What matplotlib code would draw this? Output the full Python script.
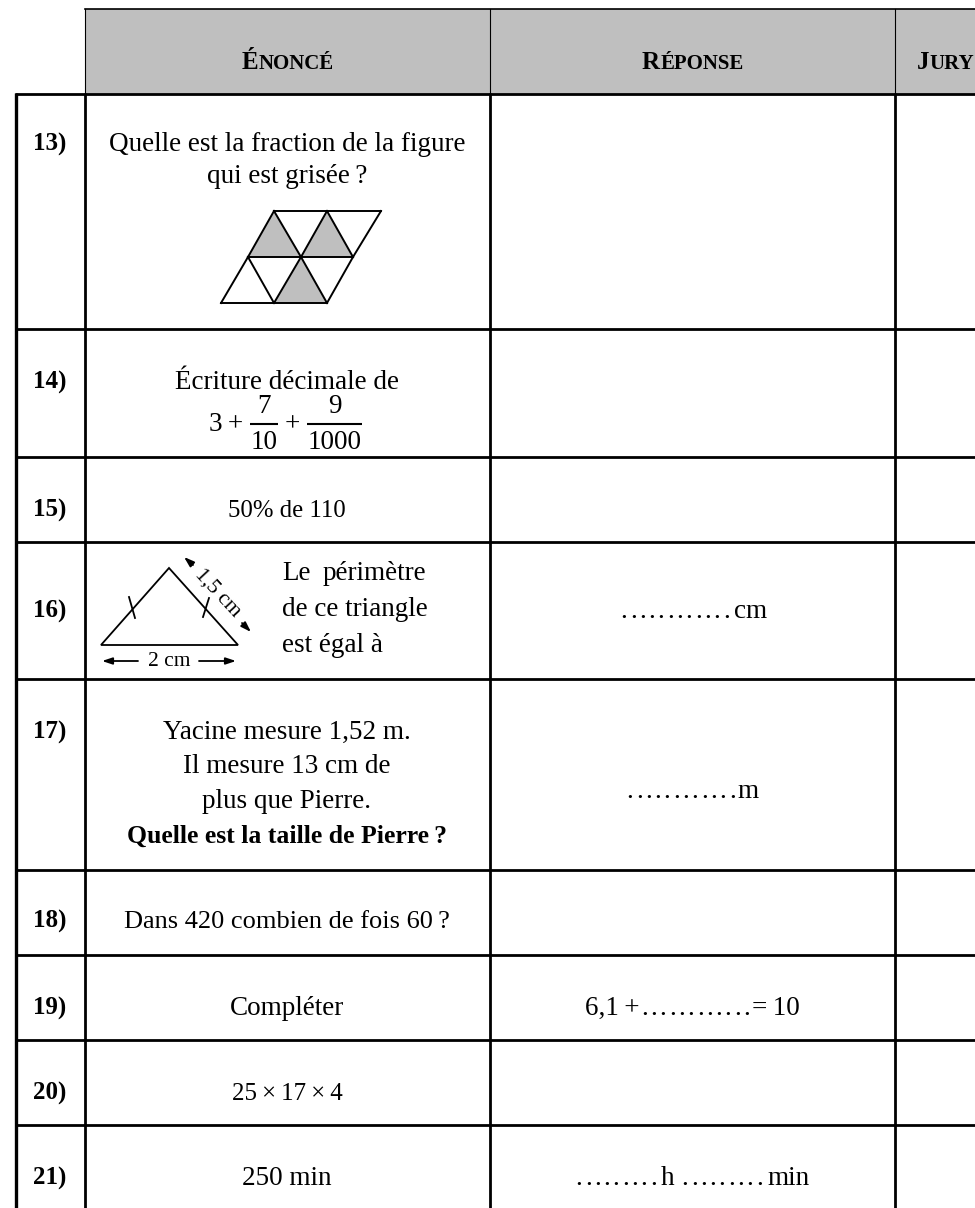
# exam answer sheet, questions 13-21, drawn in pixel coordinates

import matplotlib
matplotlib.use("Agg")
import matplotlib.pyplot as plt
from matplotlib.patches import Polygon, Rectangle

plt.rcParams["font.family"] = ["Liberation Serif", "DejaVu Serif"]

W, H = 975, 1208
FS = 19.5     # body text, pt
GREY = "#bfbfbf"

# table grid
col_x = [85, 490, 895]
row_y = [94, 329, 456.5, 542, 678.5, 869.5, 954.5, 1040, 1125]

# question numbers and their baselines
numbers = ["13)", "14)", "15)", "16)", "17)", "18)", "19)", "20)", "21)"]
number_y = [151, 389, 517, 618, 739, 928, 1015, 1100, 1185]

# question text: (text, baseline, size, bold)
questions = [
    ("Quelle est la fraction de la figure", 151, FS, False),
    ("qui est grisée\u2009?", 183, FS, False),
    ("Écriture décimale de", 389, FS, False),
    ("50% de 110", 517, 17.8, False),
    ("Yacine mesure 1,52 m.", 739, FS, False),
    ("Il mesure 13 cm de", 773, FS, False),
    ("plus que Pierre.", 808, FS, False),
    ("Quelle est la taille de Pierre\u2009?", 843, 18.5, True),
    ("Dans 420 combien de fois 60\u2009?", 928, 19, False),
    ("Compléter", 1015, FS, False),
    ("25\u2009×\u200917\u2009×\u20094", 1100, 18, False),
    ("250 min", 1185, FS, False),
]

# triangle grid of question 13
tri_top = [(274, 211), (327, 211), (381, 211)]
tri_mid = [(248, 257), (301, 257), (353, 257)]
tri_bot = [(221, 303), (274, 303), (327, 303)]
shaded = [
    [tri_top[0], tri_mid[0], tri_mid[1]],
    [tri_top[1], tri_mid[1], tri_mid[2]],
    [tri_mid[1], tri_bot[1], tri_bot[2]],
]

# triangle of question 16
tri16 = [(169, 568), (101, 645), (238, 645)]
ticks16 = [((129, 597), (135, 618)), ((209, 598), (203, 617))]

fig = plt.figure(figsize=(W / 100, H / 100), dpi=100)
ax = fig.add_axes([0, 0, 1, 1])
ax.set_xlim(0, W)
ax.set_ylim(H, 0)
ax.axis("off")
renderer = fig.canvas.get_renderer()


def small_caps(text, x_mid, y, big=18, small=15):
    # capital + smaller capitals, centred on x_mid
    parts = []
    total = 0
    for chunk, size in [(text[0], big), (text[1:], small)]:
        t = ax.text(0, y, chunk, fontsize=size, fontweight="bold", va="baseline", ha="left")
        w = t.get_window_extent(renderer).width
        parts.append((t, w))
        total += w
    x = x_mid - total / 2
    for t, w in parts:
        t.set_x(x)
        x += w + 1


def dots(x, y, n, step=9.3):
    for i in range(n):
        ax.text(x + i * step, y, ".", fontsize=FS, ha="left", va="baseline")


def arrow(start, end, lw=1.3):
    ax.annotate("", xy=end, xytext=start,
                arrowprops=dict(arrowstyle="-|>,head_length=0.6,head_width=0.2",
                                color="black", lw=lw, shrinkA=0, shrinkB=0))


# --- header ---
ax.add_patch(Rectangle((85, 9), W - 85, 85, fc=GREY, ec="none"))
ax.plot([85, W], [9, 9], color="black", lw=1.2)
for x in col_x:
    ax.plot([x, x], [9, 94], color="black", lw=0.8)
small_caps("ÉNONCÉ", 287, 69)
small_caps("RÉPONSE", 692, 69)
small_caps("JURY", 945, 69)

# --- grid ---
for y in row_y:
    ax.plot([15, W], [y, y], color="black", lw=2.0, solid_capstyle="butt")
ax.plot([15.5, 15.5], [93, H], color="black", lw=2.4, solid_capstyle="butt")
for x in col_x:
    ax.plot([x, x], [93, H], color="black", lw=2.0, solid_capstyle="butt")

# --- left columns ---
for label, y in zip(numbers, number_y):
    ax.text(33, y, label, fontsize=18, fontweight="bold", ha="left", va="baseline")

for text, y, size, bold in questions:
    ax.text(287, y, text, fontsize=size, ha="center", va="baseline",
            fontweight="bold" if bold else "normal")

# --- q13 figure ---
for tri in shaded:
    ax.add_patch(Polygon(tri, closed=True, fc=GREY, ec="none"))
for a, b in [(tri_top[0], tri_top[2]), (tri_mid[0], tri_mid[2]), (tri_bot[0], tri_bot[2]),
             (tri_top[0], tri_mid[1]), (tri_mid[1], tri_bot[2]),
             (tri_top[1], tri_mid[2]), (tri_mid[0], tri_bot[1]),
             (tri_top[0], tri_mid[0]), (tri_mid[0], tri_bot[0]),
             (tri_top[1], tri_mid[1]), (tri_mid[1], tri_bot[1]),
             (tri_top[2], tri_mid[2]), (tri_mid[2], tri_bot[2])]:
    ax.plot([a[0], b[0]], [a[1], b[1]], color="black", lw=1.4)

# --- q14 fractions ---
ax.text(226, 431, "3\u2009+", fontsize=FS, ha="center", va="baseline")
ax.text(292, 431, "+", fontsize=FS, ha="center", va="baseline")
for x0, x1, num, den in [(250, 278, "7", "10"), (307, 362, "9", "1000")]:
    ax.plot([x0, x1], [424, 424], color="black", lw=1.5, solid_capstyle="butt")
    ax.text((x0 + x1) / 2, 413, num, fontsize=FS, ha="center", va="baseline")
    ax.text((x0 + x1) / 2, 449, den, fontsize=FS, ha="center", va="baseline")

# --- q16 figure ---
ax.add_patch(Polygon(tri16, closed=True, fc="none", ec="black", lw=1.3))
for a, b in ticks16:
    ax.plot([a[0], b[0]], [a[1], b[1]], color="black", lw=1.3)
arrow((138, 661), (102, 661))
arrow((199, 661), (236, 661))
ax.text(169, 666, "2 cm", fontsize=15.5, ha="center", va="baseline")
arrow((193, 565), (184, 557))
arrow((242, 623), (251, 632))
ax.text(218, 593, "1,5 cm", fontsize=15.5, rotation=-47, rotation_mode="anchor",
        ha="center", va="center")
ax.text(282, 580, "Le", fontsize=FS, ha="left", va="baseline")
ax.text(323, 580, "périmètre", fontsize=FS, ha="left", va="baseline")
ax.text(282, 616, "de ce triangle", fontsize=FS, ha="left", va="baseline")
ax.text(282, 652, "est égal à", fontsize=FS, ha="left", va="baseline")

# --- answers ---
dots(620.5, 618, 12)
ax.text(767, 618, "cm", fontsize=FS, ha="right", va="baseline")
dots(626.5, 798, 12)
ax.text(759, 798, "m", fontsize=FS, ha="right", va="baseline")
ax.text(585, 1015, "6,1\u2009+", fontsize=FS, ha="left", va="baseline")
dots(641, 1015, 12)
ax.text(800, 1015, "=\u200910", fontsize=FS, ha="right", va="baseline")
dots(575.5, 1185, 9)
ax.text(661, 1185, "h", fontsize=FS, ha="left", va="baseline")
dots(681.5, 1185, 9)
ax.text(810, 1185, "min", fontsize=FS, ha="right", va="baseline")

fig.savefig("out.png", dpi=100)
